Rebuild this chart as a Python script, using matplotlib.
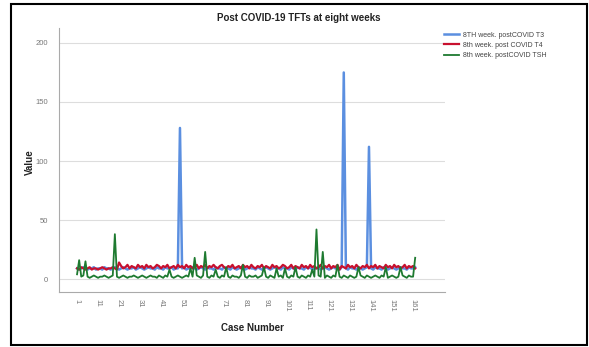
import matplotlib
matplotlib.use("Agg")
import matplotlib.pyplot as plt
from matplotlib.patches import Rectangle

plt.rcParams['font.family'] = ['Liberation Sans', 'DejaVu Sans']

title = "Post COVID-19 TFTs at eight weeks"
series_names = ["8TH week. postCOVID T3", "8th week. post COVID T4", "8th week. postCOVID TSH"]

t3 = [9, 8, 9, 10, 9, 8, 9, 9, 10, 8,
      9, 9, 8, 10, 9, 9, 8, 9, 10, 9,
      8, 9, 10, 9, 8, 9, 9, 10, 8, 9,
      10, 9, 8, 9, 10, 9, 9, 8, 10, 9,
      9, 8, 10, 9, 9, 10, 8, 9, 9, 128,
      9, 10, 8, 9, 9, 10, 9, 8, 9, 10,
      9, 8, 10, 9, 9, 8, 10, 9, 9, 8,
      10, 9, 9, 8, 10, 9, 8, 9, 10, 9,
      8, 9, 10, 9, 9, 8, 10, 9, 8, 9,
      10, 9, 8, 9, 10, 9, 9, 8, 10, 9,
      9, 8, 10, 9, 8, 10, 9, 9, 8, 10,
      9, 10, 8, 9, 9, 10, 8, 9, 10, 9,
      8, 9, 10, 9, 9, 8, 10, 175, 9, 8,
      10, 9, 9, 8, 10, 9, 8, 9, 10, 112,
      9, 8, 10, 9, 9, 8, 10, 9, 8, 9,
      10, 9, 8, 9, 10, 9, 9, 8, 10, 9,
      9, 10]

t4 = [9, 8, 10, 9, 8, 9, 10, 8, 9, 9,
      8, 9, 10, 9, 8, 9, 9, 10, 9, 8,
      14, 11, 9, 10, 12, 9, 11, 10, 9, 12,
      10, 11, 9, 12, 10, 11, 9, 10, 12, 11,
      9, 11, 10, 12, 9, 10, 11, 9, 12, 10,
      11, 9, 12, 10, 11, 9, 10, 12, 9, 11,
      10, 12, 9, 11, 10, 12, 10, 9, 11, 12,
      10, 9, 11, 10, 12, 9, 10, 11, 9, 12,
      10, 11, 9, 12, 10, 9, 11, 10, 12, 9,
      11, 10, 9, 12, 10, 11, 9, 10, 12, 11,
      9, 10, 12, 9, 11, 10, 9, 12, 10, 11,
      9, 12, 10, 11, 9, 10, 12, 9, 11, 10,
      12, 9, 11, 10, 12, 8, 11, 10, 9, 12,
      10, 11, 9, 12, 10, 9, 11, 10, 12, 9,
      11, 10, 12, 9, 11, 10, 9, 12, 10, 11,
      9, 12, 10, 11, 9, 10, 12, 9, 11, 10,
      11, 9]

tsh = [4, 16, 2, 3, 15, 2, 1, 2, 3, 2,
       1, 2, 2, 3, 2, 1, 2, 3, 38, 2,
       1, 2, 3, 2, 1, 2, 2, 3, 2, 1,
       2, 3, 2, 1, 2, 3, 2, 2, 1, 3,
       2, 1, 3, 2, 8, 2, 1, 2, 3, 2,
       1, 2, 3, 2, 9, 2, 18, 3, 2, 1,
       3, 23, 2, 1, 3, 2, 8, 2, 1, 3,
       2, 10, 2, 1, 3, 2, 2, 1, 3, 12,
       2, 1, 3, 2, 2, 3, 1, 2, 3, 10,
       2, 1, 3, 2, 1, 9, 2, 3, 1, 9,
       2, 1, 3, 2, 10, 2, 1, 3, 2, 1,
       3, 2, 8, 2, 42, 3, 2, 23, 1, 3,
       2, 1, 3, 2, 12, 2, 1, 3, 2, 1,
       3, 2, 1, 2, 10, 3, 2, 1, 3, 2,
       1, 2, 3, 2, 1, 3, 2, 10, 1, 2,
       3, 2, 1, 2, 10, 3, 2, 1, 3, 2,
       2, 18]

cases = list(range(1, len(t3) + 1))
xtick_vals = list(range(1, 162, 10))
xtick_labels = [str(v) for v in xtick_vals]
ytick_vals = [0, 50, 100, 150, 200]

W, H = 589, 347
fig = plt.figure(figsize=(W / 100, H / 100), dpi=100)
fig.patch.set_facecolor('white')

ax = fig.add_axes([59 / W, 1 - 292 / H, (445 - 59) / W, (292 - 28) / H])
colors = ['#5b8fe0', '#c8102e', '#1e7a30']
ax.plot(cases, t3, color=colors[0], lw=1.8, label=series_names[0], zorder=2)
ax.plot(cases, t4, color=colors[1], lw=1.6, label=series_names[1], zorder=3)
ax.plot(cases, tsh, color=colors[2], lw=1.3, label=series_names[2], zorder=4)

ax.set_xlim(-7.6, 176.2)
ax.set_ylim(-11, 212.7)
ax.set_yticks(ytick_vals)
ax.set_yticklabels([str(v) for v in ytick_vals])
ax.set_xticks(xtick_vals)
ax.set_xticklabels(xtick_labels, rotation=-90)
ax.tick_params(axis='both', length=0, labelsize=5.5, labelcolor='#777777')
ax.tick_params(axis='y', pad=8)
ax.tick_params(axis='x', pad=5)
ax.grid(axis='y', color='#dddddd', lw=0.8)
ax.set_axisbelow(True)
for s in ['top', 'right']:
    ax.spines[s].set_visible(False)
for s in ['left', 'bottom']:
    ax.spines[s].set_color('#aaaaaa')
    ax.spines[s].set_linewidth(0.8)

fig.text(299 / W, 1 - 18 / H, title, ha='center', va='center', fontsize=7, fontweight='bold', color='#222222')
fig.text(252 / W, 1 - 328 / H, "Case Number", ha='center', va='center', fontsize=7, fontweight='bold', color='#222222')
fig.text(30 / W, 1 - 162 / H, "Value", ha='center', va='center', rotation=90, fontsize=7, fontweight='bold', color='#222222')

leg = fig.legend(loc='upper left', bbox_to_anchor=(441 / W, 1 - 29 / H), frameon=False,
                 fontsize=5, handlelength=2.2, handletextpad=0.5, labelspacing=0.45, borderaxespad=0)
for t in leg.get_texts():
    t.set_color('#444444')

fig.patches.append(Rectangle((10.5 / W, 2 / H), (587 - 10.5) / W, (343 - 2) / H,
                             transform=fig.transFigure, fill=False, ec='black', lw=1.5))

fig.savefig('out.png', dpi=100)
